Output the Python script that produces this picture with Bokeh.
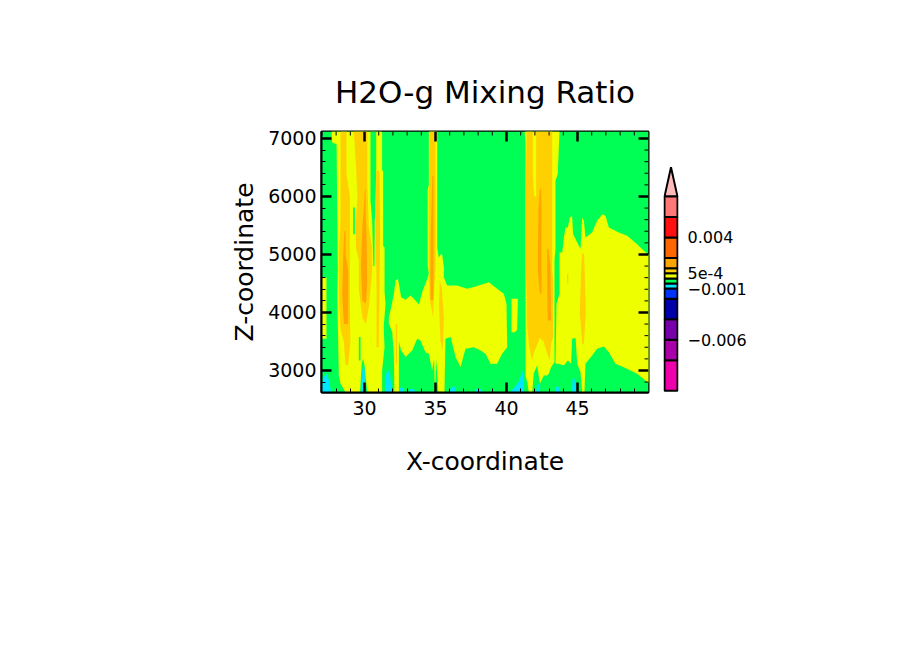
from bokeh.embed import file_html
from bokeh.resources import INLINE
from bokeh.layouts import row
from bokeh.models import FixedTicker, Label, Range1d
from bokeh.plotting import figure

TITLE = "H2O-g Mixing Ratio"
X_LABEL = "X-coordinate"
Z_LABEL = "Z-coordinate"
X_TICKS = [30, 35, 40, 45]
X_MINOR = [27, 28, 29, 31, 32, 33, 34, 36, 37, 38, 39, 41, 42, 43, 44, 46, 47, 48, 49]
Z_TICKS = [3000, 4000, 5000, 6000, 7000]
Z_MINOR = [2800, 3200, 3400, 3600, 3800, 4200, 4400, 4600, 4800, 5200, 5400, 5600, 5800,
           6200, 6400, 6600, 6800]
X_MIN, X_MAX = 26.97, 50.0
Z_MIN, Z_MAX = 2620, 7120

# Colour levels of the scale, bottom to top
LEVELS = [-0.011, -0.008, -0.006, -0.004, -0.002, -0.001, -0.0005, 0, 0.0005, 0.001, 0.002, 0.004, 0.006, 0.008]
LEVEL_COLORS = ["#ee00aa", "#aa00aa", "#7700aa", "#0000aa", "#0033ff", "#00e5ff", "#00ff55",
                "#eeff00", "#ffd000", "#ffa500", "#ff6600", "#ff1111", "#ff7777"]
OVER_TIP = 0.01087
OVER_COLOR = "#ffbbbb"
SCALE_TICKS = [0.004, 0.0005, -0.001, -0.006]
SCALE_LABELS = ["0.004", "5e-4", "\u22120.001", "\u22120.006"]

GREEN, YELLOW, GOLD, ORANGE, CYAN = "#00ff55", "#eeff00", "#ffd000", "#ffa500", "#00e5ff"

# Contour regions: x in 1E4 m, z in m
yellow_x = [
    [27.68, 27.72, 28.03, 28.12, 28.08, 28.19, 28.31, 28.54, 28.66, 31.24, 31.24, 31.41, 31.35, 31.48, 31.41, 31.41, 31.31, 31.31, 31.24, 31.24],
    [31.71, 31.83, 32.07, 32.18, 32.35, 32.46, 32.58, 32.89, 33.24, 33.59, 33.83, 34.06, 34.29, 34.53, 34.45, 34.45, 34.53, 34.53, 35.12, 35.12, 35.23, 35.40, 35.47, 35.59, 35.59, 35.82, 36.52, 37.23, 37.70, 38.76, 39.34, 39.81, 40.0, 40.05, 39.69, 39.34, 38.87, 38.52, 38.17, 37.70, 37.11, 36.76, 36.41, 36.06, 35.70, 35.63, 34.95, 34.9, 34.76, 34.53, 34.29, 33.94, 33.71, 33.36, 32.89, 32.58, 32.42, 32.42, 32.10, 32.07, 31.95, 31.71],
    [40.35, 40.80, 40.75, 40.6, 40.35],
    [41.27, 41.34, 41.34, 41.46, 41.57, 41.81, 41.92, 42.16, 42.35, 42.63, 42.86, 42.98, 43.14, 43.38, 43.38, 43.45, 43.45, 43.61, 43.73],
    [43.52, 43.73, 43.73, 43.92, 44.04, 44.15, 44.32, 44.46, 44.62, 44.69, 44.98, 45.21, 45.33, 45.45, 45.56, 46.03, 46.38, 46.74, 46.97, 47.21, 47.56, 47.91, 48.50, 49.20, 49.67, 50.1, 50.1, 49.90, 49.20, 48.26, 47.67, 47.21, 46.85, 46.38, 46.03, 45.56, 45.49, 45.33, 45.21, 44.98, 44.86, 44.62, 44.55, 44.32, 44.04, 43.68, 43.45],
    [26.9, 27.32, 27.32, 26.9],
]
yellow_z = [
    [7120, 6931, 6900, 4718, 4300, 2914, 2770, 2680, 2620, 2620, 3000, 3402, 3747, 4149, 4351, 5120, 5150, 6443, 6443, 7120],
    [3920, 4034, 4322, 4552, 4580, 4437, 4264, 4218, 4293, 4207, 4138, 4351, 4494, 4667, 4800, 6126, 6200, 7120, 7120, 5121, 4948, 5006, 4994, 4776, 4609, 4466, 4466, 4408, 4437, 4523, 4408, 4322, 4149, 3400, 3287, 3115, 3115, 3287, 3345, 3402, 3374, 3057, 3230, 3575, 3546, 2620, 2620, 3200, 3000, 3287, 3316, 3517, 3546, 3345, 3230, 3345, 3500, 2620, 2620, 3230, 3661, 3805],
    [4236, 4236, 3700, 3660, 3660],
    [7120, 6900, 2900, 2800, 2620, 2620, 2950, 3086, 2770, 2914, 2914, 2943, 3057, 3144, 4897, 5100, 6270, 6385, 7120],
    [4149, 4322, 5034, 5034, 5293, 5466, 5466, 5638, 5667, 5351, 5207, 5092, 5638, 5580, 5293, 5379, 5580, 5690, 5667, 5466, 5420, 5379, 5322, 5178, 5063, 4980, 2780, 2799, 2943, 3057, 3115, 3316, 3414, 3374, 3259, 3115, 2620, 2620, 2971, 3115, 3559, 3546, 3115, 3172, 3086, 3115, 3115],
    [4609, 4609, 3546, 3546],
]
gap_x = [
    [30.42, 30.82, 30.82, 30.75, 30.72, 30.70, 30.62, 30.54, 30.42],
    [29.2, 29.32, 29.32, 29.2],
    [29.6, 29.72, 29.72, 29.6],
    [29.68, 29.8, 29.9, 30.0, 30.12, 30.2],
    [34.98, 35.05, 35.15, 35.2],
]
gap_z = [
    [7120, 7120, 6443, 5640, 5610, 4800, 4800, 5580, 5925],
    [5810, 5810, 5350, 5350],
    [3575, 3575, 3172, 3172],
    [2620, 3120, 3200, 3086, 2800, 2620],
    [2620, 3200, 2800, 2620],
]
gold_x = [
    [28.31, 28.73, 28.73, 28.97, 28.97, 29.0, 28.85, 28.66, 28.54, 28.31, 28.19, 28.19, 28.31],
    [29.25, 30.20, 30.20, 30.30, 30.54, 30.54, 30.42, 30.31, 30.10, 29.85, 29.60, 29.60, 29.40, 29.37, 29.50, 29.40],
    [30.82, 31.05, 31.10, 31.05, 31.0, 30.85, 30.85, 30.80],
    [34.60, 35.0, 35.0, 34.88, 34.83, 34.6, 34.53, 34.53],
    [35.3, 35.45, 35.59, 35.5, 35.35, 35.25],
    [32.2, 32.3, 32.28, 32.2],
    [41.42, 41.85, 41.85, 41.95, 42.09, 42.09, 43.22, 43.22, 43.30, 43.29, 43.14, 43.05, 42.85, 42.6, 42.35, 41.92, 41.81, 41.60, 41.46, 41.41, 41.34, 41.34],
    [45.33, 45.47, 45.59, 45.45, 45.33, 45.16, 45.25],
    [44.27, 44.35, 44.35, 44.27],
]
gold_z = [
    [7120, 7120, 6400, 6000, 4300, 3500, 3100, 3100, 3500, 3700, 4200, 5000, 5600],
    [7120, 7120, 6200, 5500, 5100, 4718, 4400, 4100, 3800, 3900, 4400, 4900, 5100, 5500, 6000, 6500],
    [6443, 6443, 5400, 4200, 3400, 3400, 4400, 5200],
    [7120, 7120, 4800, 4250, 3920, 4200, 4700, 5900],
    [4550, 4400, 3900, 3350, 3500, 4100],
    [3800, 3800, 3100, 3100],
    [7120, 7120, 6380, 6000, 6000, 7120, 7120, 4718, 4500, 3575, 3460, 3172, 3300, 3500, 3560, 3300, 3172, 3400, 3750, 4300, 4900, 6000],
    [5034, 5000, 4000, 3460, 3460, 4000, 4700],
    [4667, 4667, 4500, 4500],
]
orange_x = [
    [28.58, 28.66, 28.66, 28.85, 28.85, 28.55, 28.43, 28.50],
    [30.03, 30.08, 30.08, 30.15, 30.19, 30.1, 29.85, 29.75, 29.85, 29.95],
    [34.78, 34.85, 34.85, 34.65, 34.65, 34.7],
    [42.35, 42.44, 42.46, 42.46, 42.35, 42.21, 42.21, 42.25],
    [42.86, 42.95, 43.10, 43.14, 42.9, 42.86],
]
orange_z = [
    [5400, 5400, 5000, 4718, 3800, 3800, 4300, 5000],
    [6126, 6126, 5700, 5300, 4500, 4149, 4200, 4800, 5500, 5800],
    [6356, 6356, 4218, 4218, 5200, 5700],
    [6126, 6126, 5800, 4322, 4322, 4700, 5100, 5800],
    [5092, 5092, 4800, 3862, 3862, 4800],
]
cyan_x = [
    [26.95, 27.05, 27.32, 27.5, 27.65],
    [29.78, 29.82, 29.98, 30.05, 30.05],
    [31.45, 31.5, 31.6, 31.78, 31.85, 31.9],
    [32.42, 32.45, 32.75, 32.8],
    [33.15, 33.2, 33.5, 33.55],
    [36.0, 36.1, 36.35, 36.45],
    [37.75, 37.85, 38.2, 38.3],
    [40.2, 40.55, 40.85, 41.15, 41.22],
    [42.1, 42.15, 42.3, 42.3],
    [43.4, 43.5, 43.68, 43.7],
    [44.62, 44.65, 44.8, 44.85],
]
cyan_z = [
    [2620, 2860, 2943, 2830, 2620],
    [2620, 3000, 3086, 2700, 2620],
    [2620, 2900, 3000, 2980, 2800, 2620],
    [2620, 2700, 2700, 2620],
    [2620, 2680, 2680, 2620],
    [2620, 2720, 2720, 2620],
    [2620, 2680, 2680, 2620],
    [2620, 2700, 2800, 3000, 2620],
    [2620, 2760, 2760, 2620],
    [2620, 2720, 2720, 2620],
    [2620, 2860, 2860, 2620],
]

FONT = "DejaVu Sans"

p = figure(width=663, height=646, output_backend="svg", toolbar_location=None,
           x_range=Range1d(X_MIN, X_MAX), y_range=Range1d(Z_MIN, Z_MAX),
           min_border_left=321, min_border_right=15, min_border_top=131, min_border_bottom=254,
           x_axis_label=X_LABEL, y_axis_label=Z_LABEL, title=TITLE)
p.outline_line_color = "black"
p.outline_line_width = 2
p.grid.visible = False
p.background_fill_color = GREEN
p.border_fill_color = "white"

p.title.text_font = FONT
p.title.text_font_size = "31px"
p.title.text_font_style = "normal"
p.title.text_color = "black"
p.title.align = "center"
p.title.standoff = 43

p.quad(left=[X_MIN], right=[X_MAX], bottom=[Z_MIN], top=[Z_MAX], fill_color=GREEN, line_color=None)
for xs, zs, col in [(yellow_x, yellow_z, YELLOW), (gap_x, gap_z, GREEN), (gold_x, gold_z, GOLD),
                    (orange_x, orange_z, ORANGE), (cyan_x, cyan_z, CYAN)]:
    p.patches(xs, zs, fill_color=col, line_color=None)

# Tick marks mirrored on the top and right sides of the frame
MAJOR_X_LEN, MINOR_X_LEN = 0.704, 0.282
MAJOR_Z_LEN, MINOR_Z_LEN = 172, 69
p.segment(x0=X_TICKS, x1=X_TICKS, y0=[Z_MAX] * 4, y1=[Z_MAX - MAJOR_Z_LEN] * 4, line_color="black", line_width=2.5)
p.segment(x0=X_MINOR, x1=X_MINOR, y0=[Z_MAX] * len(X_MINOR), y1=[Z_MAX - MINOR_Z_LEN] * len(X_MINOR), line_color="black", line_width=1)
p.segment(x0=[X_MAX] * 5, x1=[X_MAX - MAJOR_X_LEN] * 5, y0=Z_TICKS, y1=Z_TICKS, line_color="black", line_width=2.5)
p.segment(x0=[X_MAX] * len(Z_MINOR), x1=[X_MAX - MINOR_X_LEN] * len(Z_MINOR), y0=Z_MINOR, y1=Z_MINOR, line_color="black", line_width=1)


def style(ax, ticks, minor):
    ax.ticker = FixedTicker(ticks=ticks, minor_ticks=minor)
    ax.axis_line_color = "black"
    ax.axis_line_width = 2
    ax.major_tick_line_color = "black"
    ax.major_tick_line_width = 2.5
    ax.minor_tick_line_color = "black"
    ax.minor_tick_line_width = 1
    ax.major_tick_in = 10
    ax.major_tick_out = 0
    ax.minor_tick_in = 4
    ax.minor_tick_out = 0
    ax.major_label_text_font = FONT
    ax.major_label_text_font_size = "19px"
    ax.major_label_text_color = "black"
    ax.major_label_standoff = 5
    ax.axis_label_text_font = FONT
    ax.axis_label_text_font_size = "25px"
    ax.axis_label_text_font_style = "normal"
    ax.axis_label_text_color = "black"


style(p.xaxis[0], X_TICKS, X_MINOR)
style(p.yaxis[0], Z_TICKS, Z_MINOR)
p.xaxis[0].major_label_standoff = 8
p.xaxis[0].axis_label_standoff = 29
p.yaxis[0].axis_label_standoff = 6

p.add_layout(Label(x=-42, y=284, x_units="screen", y_units="screen", text="(m)",
                   text_font=FONT, text_font_size="18px", text_color="black", text_baseline="alphabetic"))
p.add_layout(Label(x=253, y=-45, x_units="screen", y_units="screen", text="(\u00d71E4 m)",
                   text_font=FONT, text_font_size="18px", text_color="black", text_baseline="alphabetic"))

# Colour scale
c = figure(width=233, height=646, output_backend="svg", toolbar_location=None,
           x_range=Range1d(-1 / 13, 14 / 13), y_range=Range1d(-0.011165, 0.014369),
           min_border_left=0, min_border_right=218, min_border_top=131, min_border_bottom=252,
           x_axis_location=None, y_axis_location="right")
c.outline_line_color = None
c.grid.visible = False
c.background_fill_color = None
c.patch([0, 0.5, 1], [LEVELS[-1], OVER_TIP, LEVELS[-1]], fill_color=OVER_COLOR, line_color="black", line_width=2)
c.quad(left=[0] * len(LEVEL_COLORS), right=[1] * len(LEVEL_COLORS), bottom=LEVELS[:-1], top=LEVELS[1:],
       fill_color=LEVEL_COLORS, line_color="black", line_width=2)
ax = c.yaxis[0]
ax.ticker = FixedTicker(ticks=SCALE_TICKS)
ax.major_label_overrides = dict(zip(SCALE_TICKS, SCALE_LABELS))
ax.axis_line_color = None
ax.major_tick_line_color = None
ax.minor_tick_line_color = None
ax.major_tick_in = 0
ax.major_tick_out = 0
ax.major_label_standoff = 9
ax.major_label_text_font = FONT
ax.major_label_text_font_size = "16px"
ax.major_label_text_color = "black"

open("out.html", "w").write(file_html(row(p, c, spacing=0), INLINE))
